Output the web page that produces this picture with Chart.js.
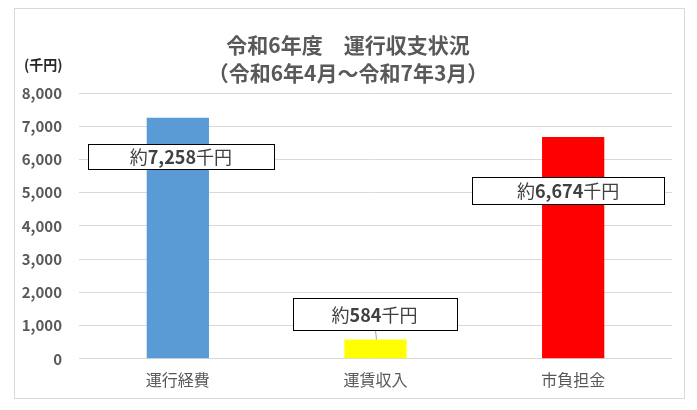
<!DOCTYPE html>
<html lang="ja">
<head>
  <meta charset="UTF-8" />
  <title>令和6年度 運行収支状況</title>
  <script src="https://cdn.jsdelivr.net/npm/chart.js"></script>
  <style>
    body {
      margin: 0;
      background: #ffffff;
    }
    #wrap {
      width: 697px;
      height: 410px;
    }
  </style>
</head>
<body>
  <div id="wrap"><canvas id="chart"></canvas></div>

  <script>
    const categories = ["運行経費", "運賃収入", "市負担金"];
    const values = [7258, 584, 6674];
    const barColors = ["#5B9BD5", "#FFFF00", "#FF0000"];
    const labelTexts = [["約", "7,258", "千円"], ["約", "584", "千円"], ["約", "6,674", "千円"]];
    const yTicks = [0, 1000, 2000, 3000, 4000, 5000, 6000, 7000, 8000];
    const titleLines = ["令和6年度　運行収支状況", "（令和6年4月～令和7年3月）"];
    const unitLabel = "(千円)";

    // where each callout box sits (offset from bar centre, y in axis units)
    const boxStyle = [
      { dx: 3, yVal: 6090, w: 186, h: 25, leader: false },
      { dx: -1, yVal: 1350, w: 164, h: 32, leader: true },
      { dx: -5, yVal: 5070, w: 192, h: 27, leader: false }
    ];

    const JP = "'Noto Sans CJK JP', 'Noto Sans', sans-serif";

    const decor = {
      id: "decor",
      beforeDraw(chart) {
        const ctx = chart.ctx;
        ctx.save();
        ctx.fillStyle = "#ffffff";
        ctx.fillRect(0, 0, chart.width, chart.height);
        ctx.strokeStyle = "#D9D9D9";
        ctx.lineWidth = 1;
        ctx.strokeRect(14.5, 8.5, 670, 390);
        ctx.restore();
      },
      afterDraw(chart) {
        const ctx = chart.ctx;
        const xs = chart.scales.x, ys = chart.scales.y;
        ctx.save();

        // title
        ctx.fillStyle = "#595959";
        ctx.font = "bold 21px " + JP;
        ctx.textAlign = "center";
        ctx.textBaseline = "middle";
        ctx.fillText(titleLines[0], 348, 45);
        ctx.fillText(titleLines[1], 348, 73);

        // unit
        ctx.fillStyle = "#262626";
        ctx.font = "bold 14px " + JP;
        ctx.textAlign = "left";
        ctx.fillText(unitLabel, 24, 65);

        // callouts
        categories.forEach((c, i) => {
          const s = boxStyle[i];
          const cx = xs.getPixelForValue(i) + s.dx;
          const cy = ys.getPixelForValue(s.yVal);
          const left = Math.round(cx - s.w / 2) + 0.5;
          const top = Math.round(cy - s.h / 2) + 0.5;

          if (s.leader) {
            ctx.strokeStyle = "#A6A6A6";
            ctx.lineWidth = 1;
            ctx.beginPath();
            ctx.moveTo(Math.round(cx) + 0.5, top + s.h);
            ctx.lineTo(Math.round(xs.getPixelForValue(i)) + 0.5, ys.getPixelForValue(values[i]));
            ctx.stroke();
          }

          ctx.fillStyle = "#ffffff";
          ctx.fillRect(left, top, s.w, s.h);
          ctx.strokeStyle = "#000000";
          ctx.lineWidth = 1;
          ctx.strokeRect(left, top, s.w, s.h);

          const parts = labelTexts[i];
          const fonts = ["18px " + JP, "bold 18px " + JP, "18px " + JP];
          let total = 0;
          const widths = parts.map((p, k) => {
            ctx.font = fonts[k];
            const w = ctx.measureText(p).width;
            total += w;
            return w;
          });
          let x = cx - total / 2;
          ctx.fillStyle = "#404040";
          ctx.textAlign = "left";
          ctx.textBaseline = "middle";
          parts.forEach((p, k) => {
            ctx.font = fonts[k];
            ctx.fillText(p, x, cy + 1);
            x += widths[k];
          });
        });
        ctx.restore();
      }
    };

    new Chart(document.getElementById("chart"), {
      type: "bar",
      data: {
        labels: categories,
        datasets: [{
          data: values,
          backgroundColor: barColors,
          categoryPercentage: 1,
          barPercentage: 0.315
        }]
      },
      options: {
        responsive: true,
        maintainAspectRatio: false,
        animation: false,
        layout: {
          padding: { left: 14, right: 25, top: 93, bottom: 8 }
        },
        plugins: {
          legend: { display: false },
          tooltip: { enabled: false }
        },
        scales: {
          x: {
            grid: { display: false, drawTicks: false },
            border: { display: false },
            ticks: {
              padding: 12,
              color: "#595959",
              font: { family: JP, size: 16 }
            }
          },
          y: {
            min: 0,
            max: 8000,
            afterBuildTicks(axis) {
              axis.ticks = yTicks.map(v => ({ value: v }));
            },
            afterFit(axis) {
              axis.width = 65;
            },
            grid: { color: "#D9D9D9", drawTicks: false },
            border: { display: false },
            ticks: {
              padding: 17,
              color: "#595959",
              font: { family: JP, size: 15, weight: "bold" },
              callback: v => v.toLocaleString("en-US")
            }
          }
        }
      },
      plugins: [decor]
    });
  </script>
</body>
</html>
